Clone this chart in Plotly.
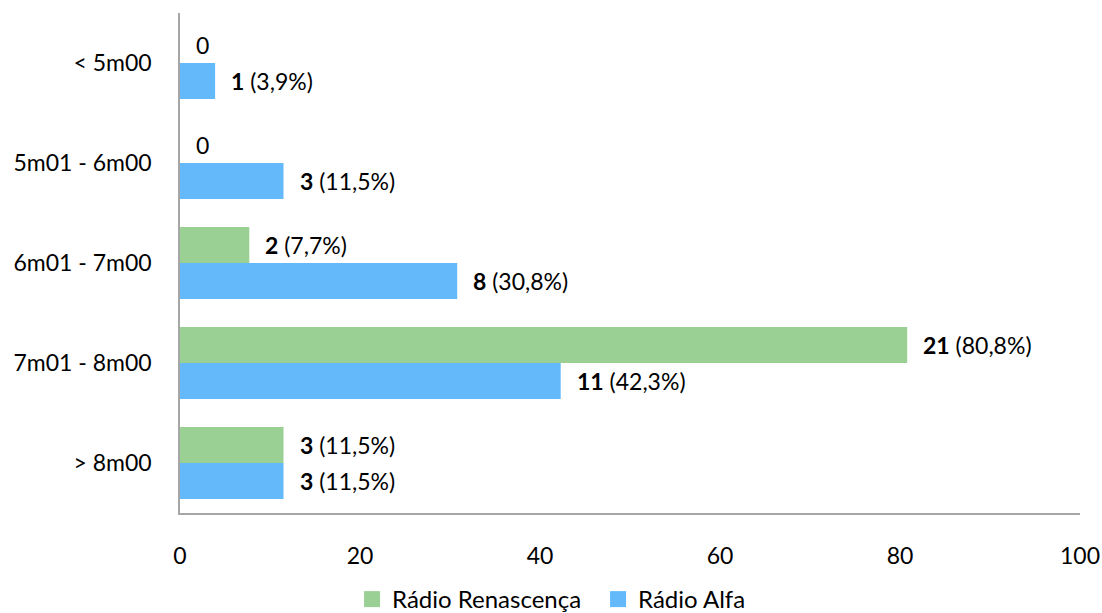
import plotly.graph_objects as go

# Duration bands (top to bottom) and share of spots per station
categories = ["< 5m00", "5m01 - 6m00", "6m01 - 7m00", "7m01 - 8m00", "> 8m00"]
renascenca_pct = [0, 0, 7.7, 80.8, 11.5]
renascenca_n = [0, 0, 2, 21, 3]
alfa_pct = [3.9, 11.5, 30.8, 42.3, 11.5]
alfa_n = [1, 3, 8, 11, 3]
x_ticks = [0, 20, 40, 60, 80, 100]

GREEN = "#9BD095"
BLUE = "#63B9F9"
FONT = "Lato"
SIZE = 23


def label(n, pct):
    if n == 0:
        return "0"
    return f"<b>{n}</b> ({pct:.1f}%)".replace(".", ",")


fig = go.Figure()
fig.add_trace(go.Bar(
    name="Rádio Renascença", y=categories, x=renascenca_pct, orientation="h",
    marker=dict(color=GREEN, line=dict(width=0)), showlegend=False,
))
fig.add_trace(go.Bar(
    name="Rádio Alfa", y=categories, x=alfa_pct, orientation="h",
    marker=dict(color=BLUE, line=dict(width=0)), showlegend=False,
))

# Legend entries with larger square swatches
for name, color in (("Rádio Renascença", GREEN), ("Rádio Alfa", BLUE)):
    fig.add_trace(go.Scatter(
        name=name, x=[None], y=[None], mode="markers",
        marker=dict(symbol="square", size=16, color=color, line=dict(width=0)),
        showlegend=True,
    ))

# Value labels to the right of each bar
annotations = []
for i, cat in enumerate(categories):
    for pct, n, off in ((renascenca_pct[i], renascenca_n[i], -0.18),
                        (alfa_pct[i], alfa_n[i], 0.18)):
        annotations.append(dict(
            x=pct, y=i + off, xref="x", yref="y", text=label(n, pct),
            showarrow=False, xanchor="left", yanchor="middle", xshift=14,
            font=dict(family=FONT, size=SIZE, color="#000000"),
        ))

fig.update_layout(
    width=1102, height=613,
    margin=dict(l=180, r=22, t=13, b=100, autoexpand=False),
    paper_bgcolor="white", plot_bgcolor="white",
    barmode="group", bargap=0.28, bargroupgap=0,
    font=dict(family=FONT, size=SIZE, color="#000000"),
    showlegend=True,
    legend=dict(orientation="h", x=0.5427, xanchor="center", xref="container",
                y=0.022, yanchor="middle", yref="container",
                font=dict(family=FONT, size=24), itemwidth=30,
                traceorder="normal", entrywidth=201, entrywidthmode="pixels"),
    annotations=annotations,
)
fig.update_xaxes(
    range=[0, 100], tickvals=x_ticks, showgrid=False, zeroline=False,
    showline=True, linecolor="#A6A6A6", linewidth=1.5, ticks="",
    ticklabelstandoff=22, automargin=False,
)
fig.update_yaxes(
    autorange="reversed", showgrid=False, zeroline=False,
    showline=True, linecolor="#A6A6A6", linewidth=1.5, ticks="",
    ticklabelstandoff=22, automargin=False,
)

fig.write_html("out.html")
